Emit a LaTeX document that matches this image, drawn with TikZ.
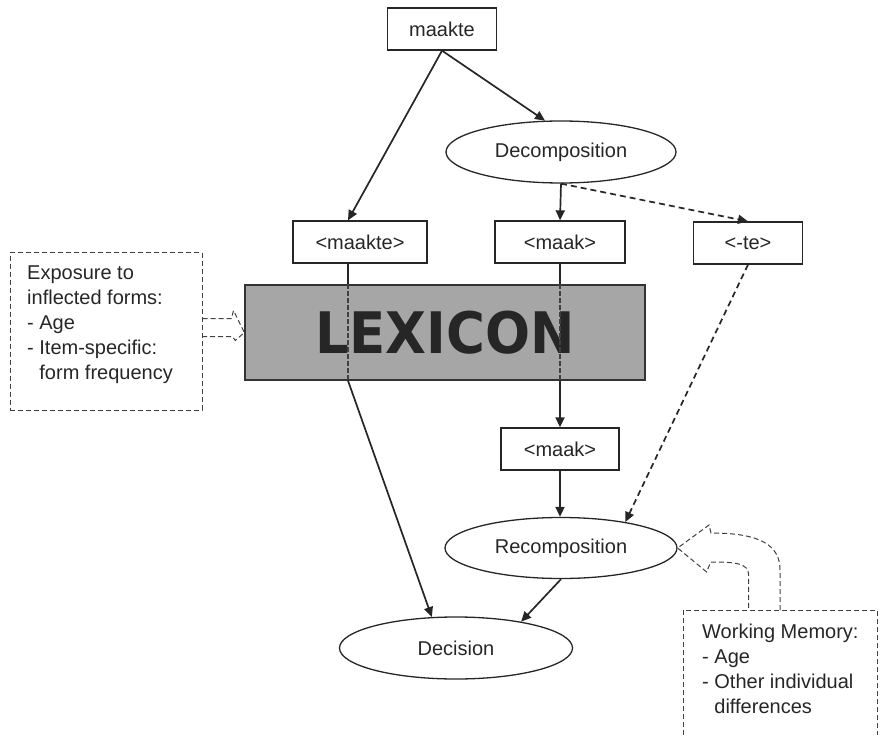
\documentclass[tikz,border=0pt]{standalone}
\usepackage{fontspec}
\setmainfont{Liberation Sans}
\newfontfamily\lexfont{DejaVu Sans}
\usepackage{tikz}
\usetikzlibrary{arrows.meta,shapes.geometric}

\begin{document}
\begin{tikzpicture}[x=1pt,y=-1pt,
    font=\fontsize{20}{25}\selectfont,text=black!85,
    box/.style={draw=black!85,line width=1.3pt,minimum height=42pt,inner sep=0pt},
    oval/.style={draw=black!85,ellipse,line width=1.3pt,inner sep=0pt},
    note/.style={draw=black!75,line width=1pt,dash pattern=on 5pt off 3pt},
    line/.style={draw=black!85,line width=1.7pt},
    inside/.style={draw=black!75,line width=1.3pt,dash pattern=on 5pt off 2pt},
    link/.style={line,-{Triangle[length=10pt,width=9pt]}},
    hint/.style={link,dash pattern=on 6pt off 4pt}]
    \useasboundingbox (0,0) rectangle (883,735);
    % word forms and units
    \node[box,minimum width=109pt] (word) at (442,29) {maakte};
    \node[oval,minimum width=230pt,minimum height=62pt] (decomp) at (561,152) {Decomposition};
    \node[box,minimum width=134pt] (whole) at (360,242) {<maakte>};
    \node[box,minimum width=130pt] (stem) at (560,242) {<maak>};
    \node[box,minimum width=109pt] (suffix) at (748,243) {<-te>};
    \node[draw=black!80,line width=1.3pt,fill=black!35,minimum width=400pt,minimum height=95pt]
      (lex) at (445,332.5) {\lexfont\bfseries\fontsize{53}{53}\selectfont\color{black!85}%
      \scalebox{1}[1.08]{LEXICON}};
    \node[box,minimum width=118pt] (stemb) at (560,449) {<maak>};
    \node[oval,minimum width=232pt,minimum height=61pt] (recomp) at (561,548) {Recomposition};
    \node[oval,minimum width=233pt,minimum height=62pt] (decide) at (456,648) {Decision};
    % factors
    \node[note,minimum width=192pt,minimum height=157pt] (expo) at (106,331.5) {};
    \node[anchor=north west,align=left,inner sep=0pt] (expotext) at (27,265.5)
      {Exposure to\\inflected forms:\\- Age\\- Item-specific:\\\hphantom{- }form frequency};
    \draw[note] (683,735) |- (877,610) -- (877,735);
    \coordinate (wmtop) at (780,610);
    \node[anchor=north west,align=left,inner sep=0pt] (wmtext) at (702,623.5)
      {Working Memory:\\- Age\\- Other individual\\\hphantom{- }differences};
    % connectors
    \draw[link] (word.south) -- ([xshift=-12pt]whole.north);
    \draw[link] (word.south) -- (decomp.117);
    \draw[link] (decomp.south) -- (stem.north);
    \draw[hint] (decomp.south) -- (suffix.north);
    \foreach \n/\s/\t in {whole/-12pt/decide.128,stem/0pt/stemb.north} {
      \draw[line] ([xshift=\s]\n.south) -- ([xshift=\s]\n.south |- lex.north);
      \draw[inside] ([xshift=\s]\n.south |- lex.north) -- ([xshift=\s]\n.south |- lex.south);
      \draw[link] ([xshift=\s]\n.south |- lex.south) -- (\t);
    }
    \draw[link] (stemb.south) -- (stemb.south |- recomp.north);
    \draw[hint] (suffix.south) -- (recomp.22);
    \draw[link] (recomp.south) -- (decide.22);
    % hollow arrows
    \draw[note] (expo.east) ++(0,-13) -- ++(29,0) -- ++(2,-8) -- (lex.west)
      -- ++(-9,8) -- ++(-3,-4) -- ++(-31,0);
    \draw[note] (wmtop) -- ++(0,-40) .. controls +(0,-25) and +(49,0) .. ++(-69,-37)
      -- ++(-2,-8) -- (recomp.east) -- ++(29,24) -- ++(4,-10)
      .. controls +(24,0) and +(0,-12) .. ++(38,13) -- ++(0,35);
\end{tikzpicture}
\end{document}
